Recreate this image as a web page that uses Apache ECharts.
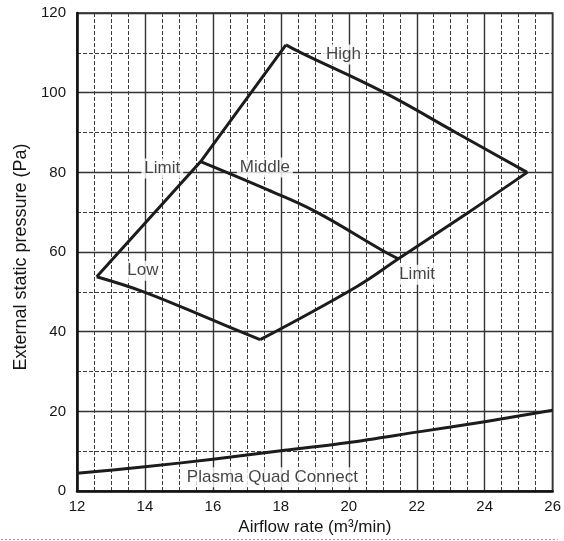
<!DOCTYPE html>
<html>
<head>
<meta charset="utf-8">
<script src="https://cdn.jsdelivr.net/npm/echarts@6/dist/echarts.min.js"></script>
<style>
html,body{margin:0;padding:0;background:#fff;}
#chart{width:564px;height:541px;}
</style>
</head>
<body>
<div id="chart"></div>
<script>
// Left edge of the envelope: Low corner -> Limit -> peak (High)
var leftX = [12.58, 15.64, 18.15];
var leftY = [53.8, 82.7, 112];
// High fan curve: peak -> right corner
var highX = [18.15, 18.6, 21.05, 23.15, 25.25];
var highY = [112, 110, 100, 90, 80];
// Right/lower system curve: right corner -> Limit -> bottom
var rightX = [25.25, 23.53, 21.46, 20.23, 17.39];
var rightY = [80, 70, 58.3, 51.3, 38];
// Low fan curve: bottom -> Low corner
var lowX = [17.39, 16.0, 14.0, 12.58];
var lowY = [38, 42.9, 49.9, 53.8];
// Middle fan curve between the two Limit points
var middleX = [15.64, 17.62, 19.01, 21.07, 21.46];
var middleY = [82.7, 75.6, 70.2, 60.0, 58.3];
// Plasma Quad Connect resistance curve
var pqcX = [12, 14, 16, 18, 20, 22, 24, 26];
var pqcY = [4.5, 6.1, 8.0, 10.1, 12.2, 14.8, 17.4, 20.3];
// In-chart annotations
var noteText = ['High', 'Middle', 'Limit', 'Low', 'Limit', 'Plasma Quad Connect'];
var noteX = [19.84, 17.53, 14.51, 13.94, 22.01, 17.75];
var noteY = [109.6, 81.2, 81.0, 55.3, 54.3, 3.5];
// Axis ticks
var xTicks = [12, 14, 16, 18, 20, 22, 24, 26];
var yTicks = [0, 20, 40, 60, 80, 100, 120];

function pairs(xs, ys) { return xs.map(function (x, i) { return [x, ys[i]]; }); }

var FONT = "'Liberation Sans', Arial, Helvetica, sans-serif";
var TXT = '#151515';
var chart = echarts.init(document.getElementById('chart'), null, {renderer: 'canvas'});

var curveStyle = {color: '#1c1c1c', width: 3, join: 'miter'};
function curve(xs, ys, smooth) {
  return {type: 'line', z: 5, data: pairs(xs, ys), symbol: 'none', smooth: smooth, lineStyle: curveStyle, silent: true};
}

chart.setOption({
  animation: false,
  backgroundColor: '#ffffff',
  grid: {left: 77, right: 6, top: 13, bottom: 45, show: true, borderColor: '#222', borderWidth: 1.6, backgroundColor: 'transparent'},
  xAxis: {
    type: 'value',
    min: xTicks[0], max: xTicks[xTicks.length - 1], interval: 2,
    name: 'Airflow rate (m\u00B3/min)',
    nameLocation: 'middle', nameGap: 25,
    nameTextStyle: {fontFamily: FONT, fontSize: 17, color: TXT},
    axisLine: {show: true, onZero: false, lineStyle: {color: '#111', width: 2.5}},
    axisTick: {show: false},
    axisLabel: {fontFamily: FONT, fontSize: 15, color: TXT, margin: 8},
    splitLine: {show: true, lineStyle: {color: '#333', width: 1.4}},
    minorTick: {show: false, splitNumber: 4},
    minorSplitLine: {show: true, lineStyle: {color: '#3c3c3c', width: 1, type: [4, 2]}}
  },
  yAxis: {
    type: 'value',
    min: yTicks[0], max: yTicks[yTicks.length - 1], interval: 20,
    name: 'External static pressure (Pa)',
    nameLocation: 'middle', nameGap: 45, nameRotate: 90,
    nameTextStyle: {fontFamily: FONT, fontSize: 18, color: TXT, padding: [0, 10, 0, 0]},
    axisLine: {show: true, onZero: false, lineStyle: {color: '#111', width: 2.5}},
    axisTick: {show: false},
    axisLabel: {fontFamily: FONT, fontSize: 15, color: TXT, margin: 11},
    splitLine: {show: true, lineStyle: {color: '#333', width: 1.4}},
    minorTick: {show: false, splitNumber: 2},
    minorSplitLine: {show: true, lineStyle: {color: '#3c3c3c', width: 1, type: [4, 2]}}
  },
  series: [
    {
      type: 'scatter', z: 3, symbolSize: 0, silent: true,
      data: noteText.map(function (t, i) { return {name: t, value: [noteX[i], noteY[i]]}; }),
      label: {
        show: true, position: 'inside', formatter: '{b}',
        fontFamily: FONT, fontSize: 17, color: TXT,
        backgroundColor: '#ffffff', padding: [2, 3, 1, 3]
      }
    },
    curve(leftX, leftY, false),
    curve(highX, highY, 0.4),
    curve(rightX, rightY, 0.4),
    curve(lowX, lowY, 0.4),
    curve(middleX, middleY, 0.4),
    curve(pqcX, pqcY, 0.3)
  ],
  graphic: [{
    type: 'line', silent: true,
    shape: {x1: 1, y1: 539.5, x2: 558, y2: 539.5},
    style: {stroke: '#9a9a9a', lineWidth: 1, lineDash: [2, 2]}
  }]
});
</script>
</body>
</html>
